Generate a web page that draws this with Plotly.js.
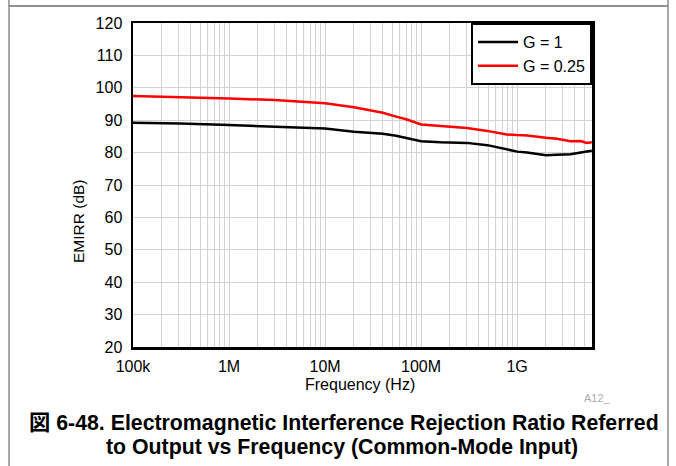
<!DOCTYPE html>
<html>
<head>
<meta charset="utf-8">
<script src="https://cdn.plot.ly/plotly-3.0.1.min.js"></script>
<style>
html,body{margin:0;padding:0;background:#fff;}
#chart{width:676px;height:466px;}
</style>
</head>
<body>
<div id="chart"></div>
<script>
// ---- data ----
const freqHz = [1e5, 3.1e5, 1e6, 3e6, 1e7, 2e7, 3.2e7, 4e7, 5.5e7, 7e7, 1e8, 1.6e8, 3e8, 4.9e8, 7.8e8, 1e9, 1.27e9, 2e9, 2.6e9, 3.6e9, 4.6e9, 5.3e9, 6e9];
const emirrG1 = [89.2, 89.0, 88.5, 88.0, 87.4, 86.4, 86.0, 85.8, 85.2, 84.6, 83.5, 83.2, 83.0, 82.3, 81.0, 80.3, 80.0, 79.2, 79.3, 79.5, 80.0, 80.4, 80.6];
const emirrG025 = [97.5, 97.2, 96.7, 96.2, 95.2, 94.0, 92.7, 92.3, 91.1, 90.3, 88.7, 88.3, 87.6, 86.7, 85.6, 85.4, 85.3, 84.6, 84.3, 83.5, 83.6, 83.0, 83.2];
const seriesNames = ['G = 1', 'G = 0.25'];
const seriesColors = ['#000000', '#ff0000'];
const xTickVals = [1e5, 1e6, 1e7, 1e8, 1e9];
const xTickLabels = ['100k', '1M', '10M', '100M', '1G'];
const yTickVals = [20, 30, 40, 50, 60, 70, 80, 90, 100, 110, 120];
const xTitle = 'Frequency (Hz)';
const yTitle = 'EMIRR (dB)';
const captionLines = ['図 6-48. Electromagnetic Interference Rejection Ratio Referred', 'to Output vs Frequency (Common-Mode Input)'];
const figId = 'A12_';

// ---- layout helpers ----
const W = 676, H = 466;
const L = 133, R = 592, T = 23, B = 347;
const px = x => (x - L) / (R - L);
const py = y => (B - y) / (B - T);

// gridline positions (1..9 per decade) with labels only at decades
const gridVals = [], gridText = [];
for (let d = 5; d <= 9; d++) {
  for (let m = 1; m <= 9; m++) {
    const v = m * Math.pow(10, d);
    if (v > 6.1e9) break;
    gridVals.push(v);
    const i = xTickVals.indexOf(v);
    gridText.push(i >= 0 ? xTickLabels[i] : '');
  }
}

const font = 'Liberation Sans, Arial, Helvetica, sans-serif';
const capFont = 'Liberation Sans, Arial, Noto Sans CJK JP, sans-serif';

const traces = [emirrG1, emirrG025].map((ys, i) => ({
  x: freqHz, y: ys, type: 'scatter', mode: 'lines', name: seriesNames[i],
  line: {color: seriesColors[i], width: 2.5}
}));

const layout = {
  width: W, height: H,
  margin: {l: L, r: W - R, t: T, b: H - B},
  paper_bgcolor: '#fff', plot_bgcolor: '#fff',
  showlegend: true,
  legend: {
    x: 1, xanchor: 'right', y: 1, yanchor: 'top',
    bgcolor: '#fff', bordercolor: '#000', borderwidth: 2,
    font: {family: font, size: 16, color: '#000'},
    itemwidth: 40, tracegroupgap: 0
  },
  xaxis: {
    type: 'log', range: [5, Math.log10(6.03e9)],
    tickmode: 'array', tickvals: gridVals, ticktext: gridText,
    ticks: '', showgrid: true, gridcolor: '#d2d2d2', gridwidth: 1,
    showline: true, linecolor: '#000', linewidth: 2.5, mirror: true,
    zeroline: false, ticklabelstandoff: 3,
    tickfont: {family: font, size: 16, color: '#000'}
  },
  yaxis: {
    range: [20, 120], tickmode: 'array', tickvals: yTickVals,
    ticks: '', showgrid: true, gridcolor: '#d2d2d2', gridwidth: 1,
    showline: true, linecolor: '#000', linewidth: 2.5, mirror: true,
    zeroline: false, ticklabelstandoff: 5,
    tickfont: {family: font, size: 16, color: '#000'}
  },
  annotations: [
    {text: xTitle, xref: 'paper', yref: 'paper', x: px(360), y: py(384), xanchor: 'center', yanchor: 'middle', showarrow: false, font: {family: font, size: 16, color: '#000'}},
    {text: yTitle, xref: 'paper', yref: 'paper', x: px(78), y: py(221), xanchor: 'center', yanchor: 'middle', textangle: -90, showarrow: false, font: {family: font, size: 15.5, color: '#000'}},
    {text: figId, xref: 'paper', yref: 'paper', x: px(597), y: py(398), xanchor: 'center', yanchor: 'middle', showarrow: false, font: {family: font, size: 11, color: '#aaaaaa'}},
    {text: captionLines[0], xref: 'paper', yref: 'paper', x: px(343.5), y: py(423), xanchor: 'center', yanchor: 'middle', showarrow: false, font: {family: capFont, size: 21.3, color: '#000', weight: 'bold'}},
    {text: captionLines[1], xref: 'paper', yref: 'paper', x: px(341.5), y: py(447), xanchor: 'center', yanchor: 'middle', showarrow: false, font: {family: capFont, size: 21.3, color: '#000', weight: 'bold'}}
  ],
  shapes: [
    {type: 'line', xref: 'paper', yref: 'paper', x0: px(9), x1: px(668), y0: py(6), y1: py(6), line: {color: '#222', width: 1}},
    {type: 'line', xref: 'paper', yref: 'paper', x0: px(9), x1: px(9), y0: py(0), y1: py(466), line: {color: '#888', width: 1.5}},
    {type: 'line', xref: 'paper', yref: 'paper', x0: px(668), x1: px(668), y0: py(0), y1: py(466), line: {color: '#888', width: 1.5}}
  ]
};

Plotly.newPlot('chart', traces, layout, {displayModeBar: false, staticPlot: true});
</script>
</body>
</html>
